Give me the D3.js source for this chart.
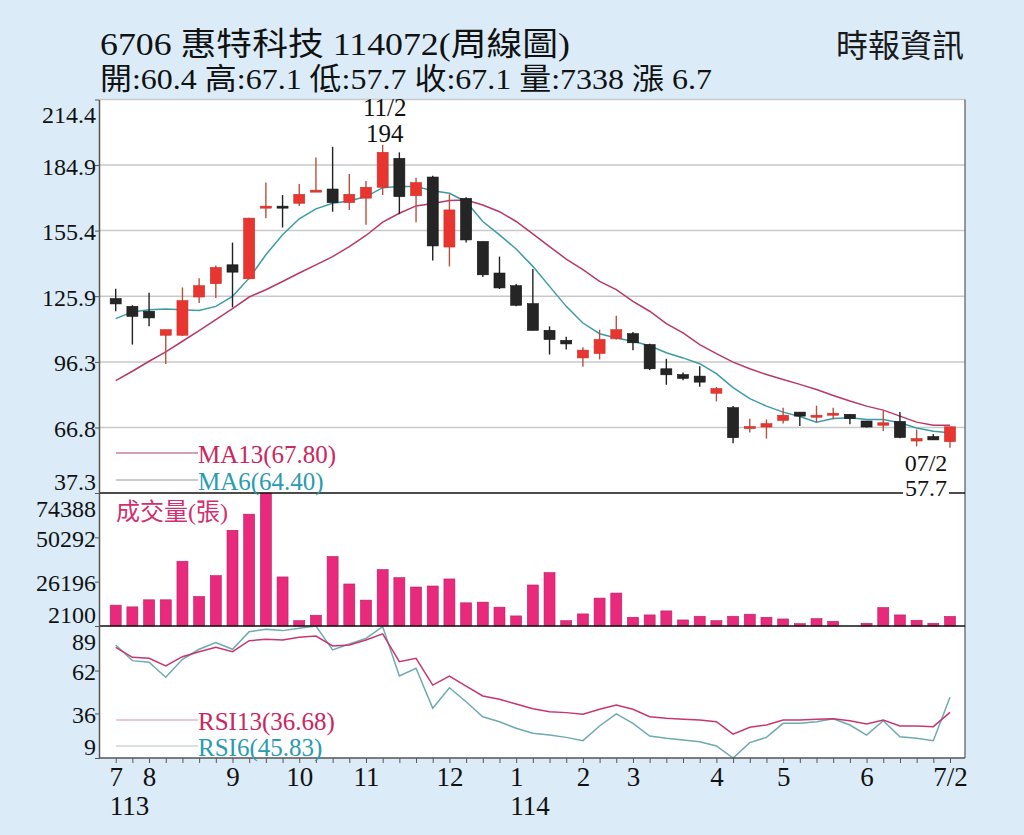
<!DOCTYPE html>
<html>
<head>
<meta charset="utf-8">
<script src="https://cdn.jsdelivr.net/npm/d3@7"></script>
<style>
body { margin:0; background:#dbecf8; }
</style>
</head>
<body>
<div id="drawChart"></div>
<script>

// weekly candles, 113/07 .. 114/07/2
var openP  = [124.8,121.3,119.1,108.3,108.3,125.5,131.5,140.0,133.7,166.0,166.4,167.7,173.2,174.1,168.0,170.0,174.9,187.9,171.1,179.5,
              148.0,169.9,150.5,136.3,130.6,122.5,110.5,106.0,98.1,100.1,106.7,109.0,104.1,93.2,90.6,89.9,82.2,75.7,66.3,67.0,
              70.0,73.7,71.4,72.8,72.7,69.7,67.8,69.5,60.7,62.7,60.4];
var highP  = [129.2,121.8,127.4,110.8,129.8,134.0,139.7,150.0,161.2,177.0,171.4,176.4,188.3,193.1,180.9,177.7,194.0,190.6,179.2,180.1,
              171.7,170.4,150.5,143.7,131.4,138.1,112.3,107.6,102.9,110.8,117.1,109.8,104.5,97.7,91.5,94.4,85.0,76.4,70.7,70.4,
              75.7,73.7,76.6,75.7,72.7,69.7,74.2,73.7,65.9,63.8,67.1];
var lowP   = [119.1,104.1,112.3,95.4,108.0,122.8,125.1,120.9,133.5,161.0,156.8,166.5,173.2,163.9,164.7,158.0,171.4,162.8,159.2,141.9,
              139.3,150.0,134.5,129.1,121.3,110.5,99.6,101.9,94.1,97.4,106.4,101.6,92.6,86.0,88.0,85.1,78.5,59.7,64.5,61.8,
              68.6,67.4,69.2,70.5,68.2,66.8,65.2,61.9,58.3,61.2,57.7];
var closeP = [122.4,116.8,116.1,110.8,123.9,130.6,138.8,136.7,161.0,166.4,166.0,171.7,173.6,168.0,171.7,174.9,190.6,170.7,177.0,148.5,
              164.7,151.2,135.5,129.6,121.8,110.5,106.4,104.4,101.6,106.4,110.8,104.9,93.2,90.5,88.9,87.2,84.3,62.2,67.2,68.5,
              72.3,71.9,72.3,73.2,70.8,67.0,68.9,62.3,61.8,61.2,67.1];

// moving averages
var ma13 = [87.9,92.1,96.6,100.8,105.6,110.4,115.3,120.3,125.5,128.8,132.5,136.3,140.0,143.7,148.2,153.2,159.2,163.2,166.5,167.6,
            168.9,169.2,166.9,163.9,159.5,153.9,148.2,142.6,137.8,132.5,128.8,123.5,119.1,113.5,109.4,104.1,100.0,96.2,93.2,90.6,
            88.4,86.2,83.9,81.2,78.7,76.4,74.6,71.9,69.2,67.8,67.8];
var ma6  = [115.8,118.8,119.8,120.1,119.8,119.4,121.3,125.8,134.0,144.5,153.5,160.7,165.2,167.7,168.7,170.7,174.7,175.2,175.2,173.3,
            172.2,168.4,159.5,153.5,147.1,139.3,130.3,121.3,113.8,109.0,107.1,105.6,103.6,100.4,98.1,95.5,91.0,84.7,79.8,76.4,
            73.7,71.7,69.2,70.8,71.2,70.4,70.4,68.9,66.6,65.1,64.4];

// volume (張)
var volume = [13440,12500,16340,16340,37310,18150,29480,54120,62880,74388,28770,5000,7960,39880,24940,16170,32770,28380,23290,23840,
              27670,14700,15080,12340,7580,24390,31120,5000,8670,17270,20000,6860,8120,10310,5390,7410,5000,7410,8510,6860,
              5930,3370,6100,4670,2100,3580,12120,8120,5220,3580,7338];

// RSI
var rsi13 = [76.1,70.0,69.4,64.8,70.4,73.4,76.1,73.4,80.1,80.9,80.5,82.2,82.9,76.9,77.5,80.5,84.2,67.4,69.4,53.2,
             58.7,52.6,46.6,44.6,41.7,38.8,37.1,36.5,35.5,38.5,41.1,38.5,34.0,33.1,32.5,32.0,31.0,23.5,27.6,29.0,
             32.0,32.0,32.5,32.8,31.6,29.6,32.0,28.4,28.4,28.0,36.68];
var rsi6  = [77.5,68.0,67.0,57.9,68.8,74.9,78.9,74.9,85.5,87.0,86.2,87.6,89.0,74.5,78.1,81.5,88.6,58.7,63.4,39.1,
             51.6,43.1,34.0,31.0,27.0,24.0,22.9,21.5,19.5,28.4,35.7,30.0,22.3,20.9,19.9,18.9,16.3,9.0,18.3,21.5,
             30.0,30.0,31.0,32.8,29.0,22.9,31.6,21.9,20.9,19.5,45.83];

// axis labels
var priceTicks = ["214.4","184.9","155.4","125.9","96.3","66.8","37.3"];
var volTicks   = ["74388","50292","26196","2100"];
var rsiTicks   = ["89","62","36","9"];
var monthLabels = {0:"7",2:"8",7:"9",11:"10",15:"11",20:"12",24:"1",28:"2",31:"3",36:"4",40:"5",45:"6",50:"7/2"};
var yearLabels = [{i:0, t:"113"}, {i:24, t:"114"}];

var serif = "'Liberation Serif','Times New Roman','Noto Sans CJK TC',serif";
var cjk = "'Liberation Serif','Noto Sans CJK TC',serif";

var left = 99, right = 965;
var pTop = 99.5, pBot = 493, vBot = 626, rBot = 758;

var svg = d3.select("#drawChart")
      .append("svg")
      .attr("width", 1024)
      .attr("height", 835);

// background
svg.append("rect").attr("width", 1024).attr("height", 835).style("fill", "#dbecf8");
svg.append("rect")
    .attr("x", left).attr("y", pTop)
    .attr("width", right - left).attr("height", rBot - pTop)
    .style("fill", "white");

// scales
var x = d3.scaleLinear().domain([0, closeP.length - 1]).range([115.7, 950]);
var yP = d3.scaleLinear().domain([37.3, 214.4]).range([pBot, pTop]);
var yV = d3.scaleLinear().domain([2100, 74388]).range([vBot, pBot]);
var yR = d3.scaleLinear().domain([9, 89]).range([rBot, vBot]);

// price gridlines
priceTicks.slice(1, -1).forEach(function(t){
  svg.append("line")
     .attr("x1", left).attr("x2", right)
     .attr("y1", yP(+t)).attr("y2", yP(+t))
     .style("stroke", "#c9c9c9").style("stroke-width", 1.5);
});
svg.append("line").attr("x1", left).attr("x2", right).attr("y1", pTop).attr("y2", pTop)
   .style("stroke", "#c9c9c9").style("stroke-width", 1.5);

// moving average lines
var lineP = function(arr){
  return d3.line().x(function(d, i){ return x(i); }).y(function(d){ return yP(d); })(arr);
};
svg.append("path").attr("d", lineP(ma13)).style("fill", "none").style("stroke", "#b8386a").style("stroke-width", 1.5);
svg.append("path").attr("d", lineP(ma6)).style("fill", "none").style("stroke", "#3c9ca6").style("stroke-width", 1.5);

// candles
var i;
for (i = 0; i < closeP.length; i++) {
  var up = closeP[i] >= openP[i];
  svg.append("line")
     .attr("x1", x(i)).attr("x2", x(i))
     .attr("y1", yP(highP[i])).attr("y2", yP(lowP[i]))
     .style("stroke", up ? "#b9503f" : "#222")
     .style("stroke-width", 1.4);
  var yTop = yP(Math.max(openP[i], closeP[i]));
  var h = Math.abs(yP(openP[i]) - yP(closeP[i]));
  svg.append("rect")
     .attr("x", x(i) - 5.5).attr("y", yTop)
     .attr("width", 11).attr("height", Math.max(h, 2))
     .style("fill", up ? "#e8352f" : "#252525")
     .style("stroke", up ? "#c8302a" : "#111")
     .style("stroke-width", 0.6);
}

// volume bars
for (i = 0; i < volume.length; i++) {
  svg.append("rect")
     .attr("x", x(i) - 5.5).attr("y", yV(volume[i]))
     .attr("width", 11).attr("height", vBot - yV(volume[i]))
     .style("fill", "#e8297c")
     .style("stroke", "#b82063")
     .style("stroke-width", 0.6);
}

// RSI lines
var lineR = function(arr){
  return d3.line().x(function(d, i){ return x(i); }).y(function(d){ return yR(d); })(arr);
};
svg.append("path").attr("d", lineR(rsi6)).style("fill", "none").style("stroke", "#6eaab2").style("stroke-width", 1.5);
svg.append("path").attr("d", lineR(rsi13)).style("fill", "none").style("stroke", "#c83670").style("stroke-width", 1.5);

// panel borders
svg.append("line").attr("x1", right).attr("x2", right).attr("y1", pTop).attr("y2", rBot)
   .style("stroke", "#777").style("stroke-width", 1.5);
[pBot, vBot].forEach(function(yy){
  svg.append("line").attr("x1", left).attr("x2", right).attr("y1", yy).attr("y2", yy)
     .style("stroke", "#111").style("stroke-width", 1.5);
});
svg.append("line").attr("x1", left).attr("x2", right).attr("y1", rBot).attr("y2", rBot)
   .style("stroke", "#555").style("stroke-width", 1.5);

// y axes, labels pushed inside their panel
function leftAxis(scale, ticks, top, bot){
  var g = svg.append("g")
     .attr("transform", "translate(" + left + ",0)")
     .call(d3.axisLeft(scale).tickValues(ticks.map(Number)).tickSize(4).tickSizeOuter(0)
            .tickFormat(function(d, k){ return ticks[k]; }));
  g.select(".domain").style("stroke", "#555").style("stroke-width", 1.5);
  g.selectAll(".tick line").style("stroke", "#555");
  g.selectAll(".tick text")
     .attr("font-family", serif).attr("font-size", 24).style("fill", "#111")
     .attr("x", -3).attr("dy", 0)
     .attr("y", function(d){ return Math.min(Math.max(9, top + 23 - scale(d)), bot - 4 - scale(d)); });
}
leftAxis(yP, priceTicks, pTop, pBot);
leftAxis(yV, volTicks, pBot, vBot);
leftAxis(yR, rsiTicks, vBot, rBot);

// x axis
var gx = svg.append("g")
    .attr("transform", "translate(0," + rBot + ")")
    .call(d3.axisBottom(x).tickValues(d3.range(closeP.length)).tickSize(5).tickSizeOuter(0)
          .tickFormat(function(d){ return monthLabels[d] || ""; }));
gx.select(".domain").remove();
gx.selectAll(".tick line").style("stroke", "#555");
gx.selectAll(".tick text")
   .attr("font-family", serif).attr("font-size", 27).style("fill", "#111")
   .attr("y", 28).attr("dy", 0);

yearLabels.forEach(function(d){
  svg.append("text")
     .attr("x", x(d.i) - 6).attr("y", 815)
     .attr("font-family", serif).attr("font-size", 27).style("fill", "#111")
     .text(d.t);
});

// legends
function legend(y, lineColor, textColor, label){
  svg.append("line").attr("x1", 116).attr("x2", 198).attr("y1", y).attr("y2", y)
     .style("stroke", lineColor).style("stroke-width", 1.2);
  svg.append("text").attr("x", 198).attr("y", y + 10)
     .attr("font-family", serif).attr("font-size", 25).style("fill", textColor)
     .text(label);
}
legend(453, "#a8436a", "#c82760", "MA13(67.80)");
legend(480, "#8d9aa0", "#2b9bb2", "MA6(64.40)");
legend(720, "#d892ae", "#c82760", "RSI13(36.68)");
legend(746, "#b5bfc3", "#2b9bb2", "RSI6(45.83)");

svg.append("text").attr("x", 116).attr("y", 520)
   .attr("font-family", cjk).attr("font-size", 24).style("fill", "#d0306e")
   .text("成交量(張)");

// high / low markers
var hi = d3.maxIndex(highP);
svg.append("text").attr("x", x(hi) + 2).attr("y", yP(highP[hi]) - 29)
   .attr("text-anchor", "middle").attr("font-family", serif).attr("font-size", 25).style("fill", "#111")
   .text("11/2");
svg.append("text").attr("x", x(hi) + 2).attr("y", yP(highP[hi]) - 3)
   .attr("text-anchor", "middle").attr("font-family", serif).attr("font-size", 25).style("fill", "#111")
   .text(highP[hi].toFixed(0));

var lo = closeP.length - 1;
svg.append("rect").attr("x", x(lo) - 47).attr("y", yP(lowP[lo]) + 30).attr("width", 46).attr("height", 19)
   .style("fill", "white");
svg.append("text").attr("x", x(lo) - 24).attr("y", yP(lowP[lo]) + 23)
   .attr("text-anchor", "middle").attr("font-family", serif).attr("font-size", 24).style("fill", "#111")
   .text("07/2");
svg.append("text").attr("x", x(lo) - 24).attr("y", yP(lowP[lo]) + 48)
   .attr("text-anchor", "middle").attr("font-family", serif).attr("font-size", 24).style("fill", "#111")
   .text(lowP[lo].toFixed(1));

// header
svg.append("text").attr("x", 100).attr("y", 55)
   .attr("font-family", cjk).attr("font-size", 32).style("fill", "#111")
   .attr("textLength", 470).attr("lengthAdjust", "spacingAndGlyphs")
   .text("6706  惠特科技 114072(周線圖)");
svg.append("text").attr("x", 100).attr("y", 89)
   .attr("font-family", cjk).attr("font-size", 30).style("fill", "#111")
   .attr("textLength", 612).attr("lengthAdjust", "spacingAndGlyphs")
   .text("開:" + openP[lo] + " 高:" + highP[lo] + " 低:" + lowP[lo] + " 收:" + closeP[lo] +
         " 量:" + volume[lo] + " 漲 " + (closeP[lo] - openP[lo]).toFixed(1));
svg.append("text").attr("x", 836).attr("y", 57)
   .attr("font-family", "'Noto Sans CJK TC',sans-serif").attr("font-size", 32).style("fill", "#1a1a1a")
   .text("時報資訊");

</script>
</body>
</html>
